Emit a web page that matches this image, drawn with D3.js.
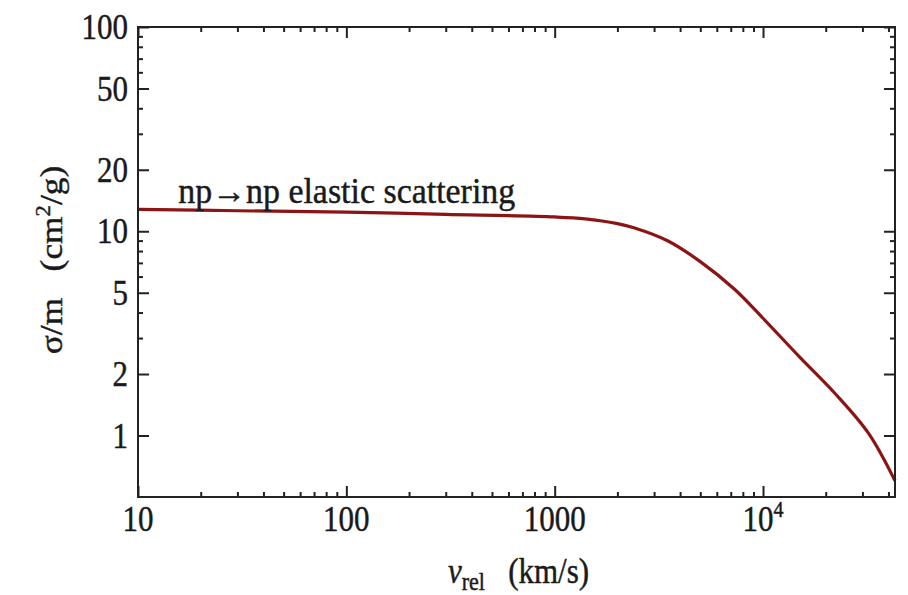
<!DOCTYPE html>
<html lang="en">
  <head>
    <meta charset="utf-8" />
    <script src="https://d3js.org/d3.v7.min.js" charset="utf-8"></script>
  </head>

  <style>
    body {
      margin: 0;
      background: #fff;
      font-family: 'Liberation Serif', 'DejaVu Serif', serif;
    }
    .axis path.domain {
      stroke-width: 0;
    }
    .axis line {
      stroke: #222;
      stroke-width: 2;
    }
    .ticklabel {
      font-size: 31px;
      fill: #1a1a1a;
      stroke: #1a1a1a;
      stroke-width: 0.4;
    }
  </style>

  <body>
    <div id="plot-container"></div>

    <script type="text/javascript">
      // data //----------------------------------------------------------

      // relative velocity (km/s)
      var v_rel = [10, 30, 100, 300, 1000, 1400, 2000, 2400, 3500, 5000, 7300,
        10000, 15000, 22000, 32000, 43000];
      // sigma/m (cm^2/g)
      var sigma_m = [12.8, 12.6, 12.4, 12.1, 11.75, 11.5, 10.9, 10.4, 8.96,
        7.1, 5.2, 3.75, 2.42, 1.62, 1.03, 0.6];

      var x_major = [10, 100, 1000, 10000];
      var x_major_labels = ['10', '100', '1000', '10^4'];
      var x_minor = [20, 30, 40, 50, 60, 70, 80, 90, 200, 300, 400, 500, 600,
        700, 800, 900, 2000, 3000, 4000, 5000, 6000, 7000, 8000, 9000, 20000,
        30000, 40000];
      var y_major = [1, 2, 5, 10, 20, 50, 100];
      var y_major_labels = ['1', '2', '5', '10', '20', '50', '100'];
      var y_minor = [3, 4, 6, 7, 8, 9, 30, 40, 60, 70, 80, 90];

      var x_domain = [10, 43000];
      var y_domain = [0.5, 100];

      // dimensions //----------------------------------------------------
      var container_dimensions = { width: 908, height: 595 };
      var margin = { top: 27, right: 13, bottom: 98, left: 138 };
      var width = container_dimensions.width - margin.left - margin.right;
      var height = container_dimensions.height - margin.top - margin.bottom;

      // the reference text is a bit taller than it is wide
      var stretch = 1.14;

      var plot = d3
        .select('#plot-container')
        .append('svg')
        .attr('width', container_dimensions.width)
        .attr('height', container_dimensions.height)
        .append('g')
        .attr('transform', `translate(${margin.left}, ${margin.top})`);

      var scale_x = d3.scaleLog().domain(x_domain).range([0, width]);
      var scale_y = d3.scaleLog().domain(y_domain).range([height, 0]);

      // ticks on all four sides, pointing inward
      function AddTicks() {
        var major = 11, minor = 5;
        var sides = [
          { axis: d3.axisBottom, scale: scale_x, t: `translate(0,${height})`, major: x_major, minor: x_minor },
          { axis: d3.axisTop, scale: scale_x, t: 'translate(0,0)', major: x_major, minor: x_minor },
          { axis: d3.axisLeft, scale: scale_y, t: 'translate(0,0)', major: y_major, minor: y_minor },
          { axis: d3.axisRight, scale: scale_y, t: `translate(${width},0)`, major: y_major, minor: y_minor },
        ];
        sides.forEach(function (s) {
          plot.append('g').attr('class', 'axis').attr('transform', s.t)
            .call(s.axis(s.scale).tickValues(s.major).tickSize(-major).tickFormat(''));
          plot.append('g').attr('class', 'axis').attr('transform', s.t)
            .call(s.axis(s.scale).tickValues(s.minor).tickSize(-minor).tickFormat(''));
        });
      }

      function StretchedText(x, y) {
        return plot.append('text')
          .attr('class', 'ticklabel')
          .attr('transform', `translate(${x},${y}) scale(1,${stretch})`);
      }

      function AddTickLabels() {
        // x labels
        x_major.forEach(function (d, i) {
          var lab = x_major_labels[i];
          var el = StretchedText(scale_x(d), height + 34).attr('text-anchor', 'middle');
          if (lab.indexOf('^') > -1) {
            var parts = lab.split('^');
            el.append('tspan').text(parts[0]);
            el.append('tspan')
              .attr('dy', -12)
              .attr('font-size', '20px')
              .text(parts[1]);
          } else {
            el.text(lab);
          }
        });

        // y labels
        y_major.forEach(function (d, i) {
          StretchedText(-10, scale_y(d))
            .attr('dy', '0.34em')
            .attr('text-anchor', 'end')
            .text(y_major_labels[i]);
        });
      }

      function AddTitles() {
        var xt = StretchedText(width / 2 + 2, height + 86)
          .attr('font-size', '33px')
          .attr('text-anchor', 'middle');
        xt.append('tspan').attr('font-style', 'italic').text('v');
        xt.append('tspan').attr('dy', 6).attr('font-size', '22px').text('rel');
        xt.append('tspan').attr('dy', -6).text('\u00a0\u00a0\u00a0(km/s)');

        var yt = plot.append('text')
          .attr('class', 'ticklabel')
          .attr('font-size', '33px')
          .attr('transform', `translate(${62 - margin.left},${height / 2 - 2}) rotate(-90) scale(${stretch},1)`)
          .attr('text-anchor', 'middle');
        yt.append('tspan').text('\u03c3/m\u00a0\u00a0\u00a0(cm');
        yt.append('tspan').attr('dy', -12).attr('font-size', '20px').text('2');
        yt.append('tspan').attr('dy', 12).text('/g)');

        StretchedText(scale_x(15.6), 176)
          .attr('font-size', '31px')
          .attr('textLength', 337)
          .attr('lengthAdjust', 'spacingAndGlyphs')
          .text('np\u2192np elastic scattering');
      }

      function DrawCurve() {
        var line = d3.line()
          .x((d, i) => scale_x(v_rel[i]))
          .y((d, i) => scale_y(sigma_m[i]))
          .curve(d3.curveCatmullRom.alpha(0.5));
        plot.append('path')
          .datum(sigma_m)
          .attr('d', line)
          .attr('fill', 'none')
          .attr('stroke', '#8b1515')
          .attr('stroke-width', 3.2);
      }

      DrawCurve();
      AddTicks();
      // frame
      plot.append('rect')
        .attr('width', width)
        .attr('height', height)
        .attr('fill', 'none')
        .attr('stroke', '#222')
        .attr('stroke-width', 2);
      AddTickLabels();
      AddTitles();
    </script>
  </body>
</html>
